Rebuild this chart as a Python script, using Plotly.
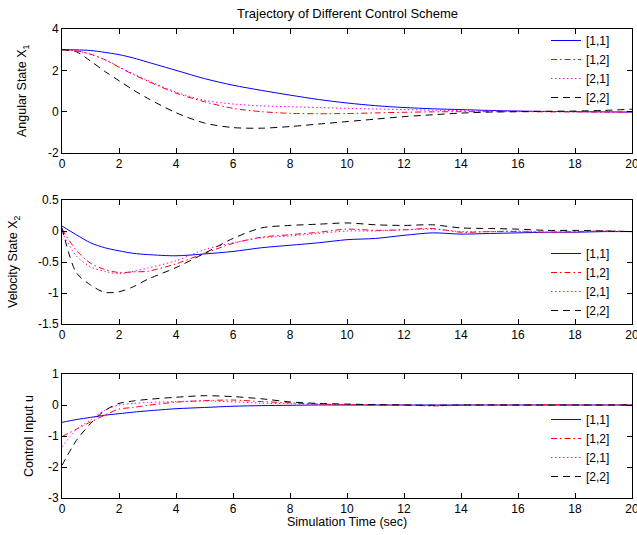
import plotly.graph_objects as go

# ---------------- data ----------------
t = [0, 0.5, 1, 1.5, 2, 2.5, 3, 4, 5, 6, 7, 8, 9, 10, 11, 12, 13, 14, 15, 16, 17, 18, 19, 20]

series_names = ["[1,1]", "[1,2]", "[2,1]", "[2,2]"]

x1_11 = [3.0, 2.99, 2.96, 2.87, 2.76, 2.6, 2.4, 2.0, 1.6, 1.28, 1.03, 0.8, 0.59, 0.42, 0.29, 0.2, 0.14, 0.1, 0.06, 0.03, 0.01, 0.0, -0.01, -0.02]
x1_12 = [3.0, 2.95, 2.78, 2.52, 2.15, 1.8, 1.48, 0.9, 0.48, 0.16, 0.0, -0.08, -0.1, -0.09, -0.06, -0.03, -0.01, 0.0, 0.0, 0.0, -0.01, -0.01, -0.02, -0.02]
x1_21 = [3.0, 2.95, 2.78, 2.52, 2.17, 1.83, 1.52, 0.95, 0.55, 0.37, 0.28, 0.24, 0.2, 0.16, 0.13, 0.1, 0.07, 0.05, 0.03, 0.02, 0.01, 0.0, -0.02, -0.03]
x1_22 = [3.0, 2.9, 2.45, 1.95, 1.5, 1.05, 0.65, -0.05, -0.55, -0.77, -0.8, -0.72, -0.6, -0.48, -0.36, -0.24, -0.15, -0.07, -0.02, 0.0, 0.02, 0.03, 0.06, 0.12]

x2_11 = [0.08, -0.06, -0.19, -0.27, -0.32, -0.36, -0.38, -0.4, -0.37, -0.33, -0.27, -0.23, -0.19, -0.14, -0.12, -0.07, -0.03, -0.05, -0.04, -0.03, -0.02, -0.02, -0.01, -0.01]
x2_12 = [0.03, -0.31, -0.52, -0.62, -0.67, -0.66, -0.65, -0.53, -0.36, -0.2, -0.1, -0.06, -0.02, 0.03, 0.01, 0.02, 0.04, -0.02, -0.01, -0.01, -0.02, -0.01, 0.0, -0.01]
x2_21 = [-0.02, -0.4, -0.58, -0.65, -0.69, -0.65, -0.6, -0.48, -0.3, -0.19, -0.11, -0.08, -0.04, 0.0, 0.0, 0.02, 0.03, -0.01, -0.01, 0.0, -0.02, -0.02, 0.0, -0.01]
x2_22 = [0.05, -0.67, -0.87, -0.99, -0.98, -0.9, -0.78, -0.59, -0.36, -0.12, 0.05, 0.09, 0.11, 0.13, 0.1, 0.09, 0.1, 0.05, 0.04, 0.03, 0.01, 0.01, 0.0, -0.01]

u_11 = [-0.56, -0.47, -0.4, -0.33, -0.28, -0.23, -0.19, -0.12, -0.08, -0.04, -0.02, -0.01, 0.0, 0.0, 0.0, 0.0, 0.0, 0.0, 0.0, 0.0, 0.0, 0.0, 0.0, 0.0]
u_12 = [-1.02, -0.78, -0.55, -0.33, -0.13, -0.08, -0.01, 0.09, 0.14, 0.16, 0.11, 0.07, 0.03, 0.01, 0.0, 0.0, -0.03, -0.01, 0.0, 0.0, 0.01, 0.0, 0.0, 0.01]
u_21 = [-1.35, -0.8, -0.48, -0.17, 0.0, 0.05, 0.08, 0.11, 0.13, 0.1, 0.06, 0.04, 0.02, 0.01, 0.0, 0.0, -0.01, 0.0, 0.0, 0.0, 0.0, 0.0, 0.0, 0.0]
u_22 = [-1.95, -1.15, -0.6, -0.18, 0.05, 0.13, 0.18, 0.25, 0.3, 0.27, 0.2, 0.1, 0.05, 0.03, 0.01, 0.0, -0.01, 0.0, 0.0, 0.0, 0.0, 0.0, 0.0, 0.0]

x_ticks = [0, 2, 4, 6, 8, 10, 12, 14, 16, 18, 20]
x_ticktext = ["0", "2", "4", "6", "8", "10", "12", "14", "16", "18", "20"]
y1_ticks = [-2, 0, 2, 4]
y1_ticktext = ["-2", "0", "2", "4"]
y2_ticks = [-1.5, -1, -0.5, 0, 0.5]
y2_ticktext = ["-1.5", "-1", "-0.5", "0", "0.5"]
y3_ticks = [-3, -2, -1, 0, 1]
y3_ticktext = ["-3", "-2", "-1", "0", "1"]

title_text = "Trajectory of Different Control Scheme"
xlabel_text = "Simulation Time (sec)"
ylabels = ["Angular State X<sub>1</sub>", "Velocity State X<sub>2</sub>", "Control Input u"]

# ---------------- styling ----------------
W, H = 637, 535
FONT = "Liberation Sans, Arial, Helvetica, sans-serif"
colors = ["#0000FF", "#FF0000", "#FF00FF", "#000000"]
dashes = ["solid", "6px,3px,1.5px,3px", "1.5px,2.5px", "7px,5px"]

X0, X1 = 62, 632
panels_px = [(29, 153), (200, 324), (374, 498)]


def pdom(top, bot):
    return [1 - bot / H, 1 - top / H]


fig = go.Figure()

panel_data = [
    [x1_11, x1_12, x1_21, x1_22],
    [x2_11, x2_12, x2_21, x2_22],
    [u_11, u_12, u_21, u_22],
]
legend_ids = ["legend", "legend2", "legend3"]

for p, data in enumerate(panel_data):
    ax = "" if p == 0 else str(p + 1)
    for k, ys in enumerate(data):
        fig.add_trace(go.Scatter(
            x=t, y=ys, mode="lines", name=series_names[k],
            line=dict(color=colors[k], width=1, dash=dashes[k], shape="spline", smoothing=0.8),
            xaxis="x" + ax, yaxis="y" + ax, legend=legend_ids[p],
            hoverinfo="skip",
        ))

axis_common = dict(
    showline=True, linecolor="black", linewidth=1, mirror="ticks",
    ticks="inside", ticklen=5, tickwidth=1, tickcolor="black",
    showgrid=False, zeroline=False, automargin=False,
    tickfont=dict(family=FONT, size=12, color="black"),
)

yt = [(y1_ticks, y1_ticktext, [-2, 4]), (y2_ticks, y2_ticktext, [-1.5, 0.5]), (y3_ticks, y3_ticktext, [-3, 1])]
layout_axes = {}
for p in range(3):
    ax = "" if p == 0 else str(p + 1)
    top, bot = panels_px[p]
    layout_axes["xaxis" + ax] = dict(
        axis_common, domain=[X0 / W, X1 / W], range=[0, 20],
        tickvals=x_ticks, ticktext=x_ticktext, anchor="y" + ax,
        ticklabeloverflow="allow",
    )
    layout_axes["yaxis" + ax] = dict(
        axis_common, domain=pdom(top, bot), range=yt[p][2],
        tickvals=yt[p][0], ticktext=yt[p][1], anchor="x" + ax,
    )

legend_common = dict(
    bgcolor="rgba(255,255,255,0)", borderwidth=0, font=dict(family=FONT, size=12, color="black"),
    xanchor="left", yanchor="top", tracegroupgap=0, itemclick=False,
)
legend_tops = [26, 239, 405]
legend_x = 546
layout_legends = {}
for p in range(3):
    layout_legends[legend_ids[p]] = dict(legend_common, x=legend_x / W, y=1 - legend_tops[p] / H)

annotations = [
    dict(text=title_text, x=347 / W, y=1 - 14 / H, xref="paper", yref="paper",
         showarrow=False, xanchor="center", yanchor="middle",
         font=dict(family=FONT, size=13, color="black")),
    dict(text=xlabel_text, x=347 / W, y=1 - 522 / H, xref="paper", yref="paper",
         showarrow=False, xanchor="center", yanchor="middle",
         font=dict(family=FONT, size=12.5, color="black")),
]
ylabel_x = [23, 14, 29]
for p in range(3):
    top, bot = panels_px[p]
    annotations.append(dict(
        text=ylabels[p], x=ylabel_x[p] / W, y=1 - (top + bot) / 2 / H,
        xref="paper", yref="paper", showarrow=False, textangle=-90,
        xanchor="center", yanchor="middle",
        font=dict(family=FONT, size=12.5, color="black"),
    ))

fig.update_layout(
    width=W, height=H, autosize=False,
    margin=dict(l=0, r=0, t=0, b=0, pad=0, autoexpand=False),
    paper_bgcolor="white", plot_bgcolor="white",
    showlegend=True,
    annotations=annotations,
    **layout_axes, **layout_legends,
)

fig.write_html(
    "out.html",
    config={"displayModeBar": False},
    post_script="document.body.style.margin='0px';document.body.style.overflow='hidden';",
)
